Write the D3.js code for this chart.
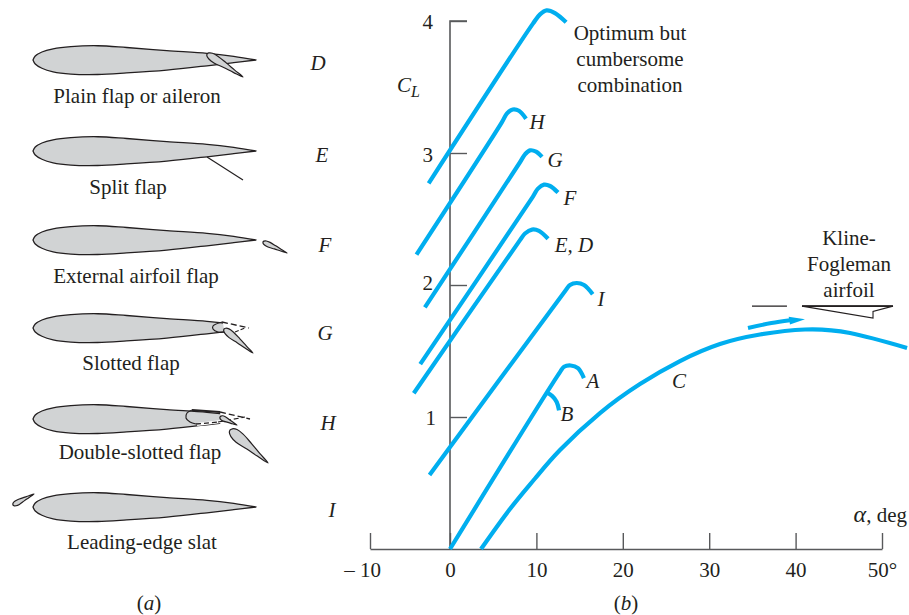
<!DOCTYPE html>
<html>
<head>
<meta charset="utf-8">
<script src="https://cdn.jsdelivr.net/npm/d3@7"></script>
<style>
html,body{margin:0;padding:0;background:#fff}
svg{display:block}
text{font-family:"Liberation Serif",serif;fill:#231f20;font-size:21px}
.it{font-style:italic}
</style>
</head>
<body>
<svg id="c" width="909" height="615"></svg>
<script>
// ---- Lift curves: [alpha (deg), CL]
const curveOptimum = [[-2.67,2.77],[9.6,3.98],[10.42,4.05],[11.18,4.08],[12.15,4.06],[13.44,3.99]];
const curveH = [[-4.19,2.23],[5.98,3.23],[6.6,3.30],[7.26,3.33],[7.98,3.32],[8.8,3.26]];
const curveG = [[-3.14,1.83],[8.1,2.93],[8.68,2.99],[9.26,3.02],[9.96,3.01],[10.65,2.97]];
const curveF = [[-3.72,1.40],[9.6,2.67],[10.18,2.73],[10.88,2.76],[11.58,2.75],[12.5,2.70]];
const curveED = [[-4.53,1.18],[8.1,2.34],[8.68,2.39],[9.49,2.42],[10.3,2.41],[11.35,2.35]];
const curveI = [[-2.56,0.56],[13.39,1.96],[13.89,2.0],[14.66,2.015],[15.51,2.0],[16.52,1.93]];
const curveA = [[0,0],[12.73,1.34],[13.2,1.38],[13.97,1.39],[14.81,1.37],[15.5,1.295]];
const curveB = [[11.19,1.184],[11.81,1.16],[12.35,1.114],[12.62,1.05]];
const curveC = [[3.59,0],[6.94,0.303],[9.84,0.534],[12.73,0.75],[17.36,1.03],[21.99,1.25],[26.62,1.424],[31.25,1.553],[35.88,1.625],[41.09,1.663],[46.3,1.636],[52.9,1.523]];
const klineArrow = [[34.49,1.674],[37.2,1.712],[39.35,1.733]];
const klineHead = [[41.09,1.74],[39.2,1.76],[39.35,1.70]];
const klineChord = [[34.95,1.84],[39.0,1.84]];
const klineSection = [[40.74,1.84],[51.27,1.84],[48.96,1.80],[48.96,1.75],[40.74,1.84]];
const xTicks = [-10,0,10,20,30,40,50];
const xTickLabels = ["– 10","0","10","20","30","40","50°"];
const yTicks = [1,2,3,4];

// ---- Airfoil outline: chord fraction, thickness offset (fraction of chord)
const foilUpper = [[0,0],[0.01,-0.018],[0.04,-0.036],[0.09,-0.05],[0.17,-0.06],[0.29,-0.064],[0.42,-0.056],[0.6,-0.042],[0.78,-0.03],[0.9,-0.016],[1,0]];
const foilLower = [[1,0],[0.9,0.012],[0.78,0.026],[0.6,0.045],[0.42,0.058],[0.29,0.065],[0.17,0.063],[0.09,0.053],[0.04,0.037],[0.01,0.018],[0,0]];
const flapProfile = [[0,0],[0.02,-0.45],[0.1,-0.9],[0.25,-1],[0.5,-0.7],[0.75,-0.33],[1,0],[0.75,0.33],[0.5,0.6],[0.25,0.95],[0.1,0.8],[0.02,0.4],[0,0]];
const foilNames = ["D","E","F","G","H","I"];
const foilTitles = ["Plain flap or aileron","Split flap","External airfoil flap","Slotted flap","Double-slotted flap","Leading-edge slat"];

const svg = d3.select("#c");
const x = d3.scaleLinear().domain([-10,0,50]).range([370,450,882]);
const y = d3.scaleLinear().domain([0,4]).range([549,21]);
const cyan = "#00aeef", ink = "#231f20", axisInk = "#58595b", foilFill = "#d1d3d4";

// ---- Axes
const gx = svg.append("g").attr("transform","translate(0,549)")
  .call(d3.axisBottom(x).tickValues(xTicks).tickSize(-16).tickPadding(13).tickSizeOuter(0)
    .tickFormat((d,i)=>xTickLabels[i]));
const gy = svg.append("g").attr("transform","translate(450,0)")
  .call(d3.axisLeft(y).tickValues(yTicks).tickSize(-17).tickPadding(17).tickSizeOuter(0).tickFormat(d3.format("d")));
[gx,gy].forEach(g=>{
  g.selectAll("path.domain").attr("stroke",axisInk).attr("stroke-width",1.6);
  g.selectAll("line").attr("stroke",axisInk).attr("stroke-width",1.4);
  g.selectAll("text").attr("fill",ink).style("font-size","21px").style("font-family",'"Liberation Serif",serif');
});
gy.select("path.domain").attr("d",`M0,${y(0)}V${y(4)}H17`);
gx.selectAll(".tick text").filter(d=>d===-10).attr("dx",-8);
gy.selectAll(".tick text").attr("y",d=>({1:1,2:-2,3:2,4:1})[d]).attr("x",d=>d===1?-14:-17);

// ---- Lift curves
const line = d3.line().x(d=>x(d[0])).y(d=>y(d[1])).curve(d3.curveCatmullRom.alpha(0.5));
[curveOptimum,curveH,curveG,curveF,curveED,curveI,curveA,curveB].forEach(c=>{
  svg.append("path").attr("d",line(c)).attr("fill","none").attr("stroke",cyan).attr("stroke-width",4.2);
});
svg.append("path").attr("d",line.curve(d3.curveNatural)(curveC)).attr("fill","none").attr("stroke",cyan).attr("stroke-width",4.2);
line.curve(d3.curveCatmullRom.alpha(0.5));

// Kline-Fogleman arrow
svg.append("path").attr("d",line(klineArrow)).attr("fill","none").attr("stroke",cyan).attr("stroke-width",4);
const kl = d3.line().x(d=>x(d[0])).y(d=>y(d[1]));
svg.append("path").attr("d",kl(klineHead)+"Z").attr("fill",cyan);

// Kline-Fogleman section
svg.append("path").attr("d",kl(klineChord)).attr("stroke",ink).attr("stroke-width",1.4).attr("fill","none");
svg.append("path").attr("d",kl(klineSection)).attr("stroke",ink).attr("stroke-width",1.1).attr("fill","#fff");
svg.append("path").attr("d",kl(klineSection.slice(0,2))).attr("stroke",ink).attr("stroke-width",1.6);

// ---- Airfoils (panel a)
const fx = d3.scaleLinear().domain([0,1]).range([33,256]);
const foilY = [60,151,240,328,419,507];
const fp = d3.line().curve(d3.curveCatmullRom.alpha(0.5));
function foil(base){
  const upper = foilUpper.map(d=>[fx(d[0]),base+d[1]*223]);
  const lower = foilLower.map(d=>[fx(d[0]),base+d[1]*223]);
  const dd = fp(upper)+fp(lower).replace(/^M/,"L");
  svg.append("path").attr("d",dd+"Z").attr("fill",foilFill).attr("stroke",ink).attr("stroke-width",1.3).attr("stroke-linejoin","round");
}
function lens(x0,y0,x1,y1,w){
  const dx=x1-x0,dy=y1-y0,n=Math.hypot(dx,dy),ux=dx/n,uy=dy/n;
  const pts = flapProfile.map(d=>[x0+ux*d[0]*n-uy*d[1]*w, y0+uy*d[0]*n+ux*d[1]*w]);
  svg.append("path").attr("d",fp(pts)+"Z").attr("fill",foilFill).attr("stroke",ink).attr("stroke-width",1.2).attr("stroke-linejoin","round");
}
function stroke(pts,opt={}){
  svg.append("path").attr("d",(opt.curve?fp:d3.line())(pts)).attr("fill",opt.fill||"none").attr("stroke",opt.color||ink)
    .attr("stroke-width",opt.w||1.3).attr("stroke-dasharray",opt.dash||null);
}
function whiteOut(pts){
  svg.append("path").attr("d",d3.line()(pts)+"Z").attr("fill","#fff").attr("stroke","#fff").attr("stroke-width",1.5);
}

// D plain flap
foil(foilY[0]);
lens(207,54,243,77,4);
// E split flap
foil(foilY[1]);
stroke([[207,157],[243,180]],{w:1.2});
// F external flap
foil(foilY[2]);
lens(263,242,287,253,2.6);
// G slotted flap
foil(foilY[3]);
whiteOut([[223,318],[260,323],[260,335],[226,338]]);
stroke([[222,322],[213,326],[213,329],[218,332],[225,332]],{curve:true,w:1.2});
stroke([[222,322],[249,328]],{dash:"6 3",w:1.3});
stroke([[235,332],[245,328]],{dash:"4 2",w:1.2});
lens(224,329,253,353,3.6);
// H double-slotted flap
foil(foilY[4]);
stroke([[197,424.6],[221,421.6]],{color:"#fff",w:3});
whiteOut([[221,408],[262,416],[262,428],[221,428]]);
stroke([[220,412],[192,410]],{w:2});
stroke([[192,410],[187,413],[186,418],[190,422],[196,424]],{curve:true,w:1.2});
stroke([[196,424],[218,422]],{dash:"5 3",w:1.3});
stroke([[220,412],[250,419]],{dash:"6 3",w:1.3});
stroke([[218,422],[245,417]],{dash:"5 3",w:1.1});
lens(220,417,237,425,2.5);
lens(230,430,268,463,5.5);
// I leading-edge slat
foil(foilY[5]);
lens(13,505,34,494,2.6);

// ---- Text
function T(s,px,py,anchor="middle",cls=""){
  return svg.append("text").attr("x",px).attr("y",py).attr("text-anchor",anchor).attr("class",cls).text(s);
}
const titleX=[137,128,136,131,140,142], titleY=[103,194,283,370,459,549];
foilTitles.forEach((t,i)=>T(t,titleX[i],titleY[i]));
const nameX=[318,322,325,325,328,332], nameY=[70,162,252,340,430,517];
foilNames.forEach((t,i)=>T(t,nameX[i],nameY[i],"middle","it"));
function paren(letter,px){
  const t=svg.append("text").attr("x",px).attr("y",610).attr("text-anchor","middle");
  t.append("tspan").text("(");
  t.append("tspan").text(letter).attr("class","it");
  t.append("tspan").text(")");
}
paren("a",149); paren("b",626);

["Optimum but","cumbersome","combination"].forEach((s,i)=>T(s,630,[40,66,92][i]));
["Kline-","Fogleman","airfoil"].forEach((s,i)=>T(s,849,[245,271,297][i]));
T("H",537,129,"middle","it"); T("G",555,167,"middle","it"); T("F",570,205,"middle","it");
T("E, D",574,252,"middle","it"); T("I",601,306,"middle","it");
T("A",593,388,"middle","it"); T("B",567,421,"middle","it"); T("C",679,388,"middle","it");
T("C",397,92,"start","it");
svg.append("text").attr("x",411).attr("y",97).attr("class","it").style("font-size","16px").text("L");
const al=svg.append("text").attr("x",907).attr("y",522).attr("text-anchor","end");
al.append("tspan").text("α").attr("class","it").style("font-size","24px");
al.append("tspan").text(", deg");
</script>
</body>
</html>
